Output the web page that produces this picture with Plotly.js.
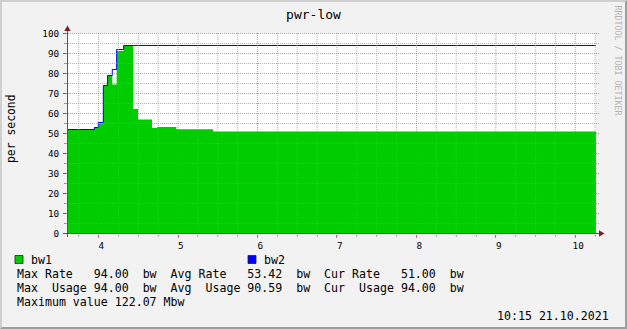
<!DOCTYPE html>
<html><head><meta charset="utf-8">
<script src="https://cdn.plot.ly/plotly-3.0.1.min.js"></script>
<style>
html,body{margin:0;padding:0;background:#f2f2f2;}
#wrap{position:relative;width:627px;height:329px;overflow:hidden;}
#chart{width:627px;height:329px;}
#frame{position:absolute;left:0;top:0;width:627px;height:329px;box-sizing:border-box;border-top:2px solid #cfcfcf;border-left:2px solid #cfcfcf;border-right:2px solid #9e9e9e;border-bottom:2px solid #9e9e9e;pointer-events:none;}
</style></head><body>
<div id="wrap"><div id="chart"></div><div id="frame"></div></div>
<script>
// ---- data (step start times; last entry is the end of the last step) ----
const stepTimes = [3.602, 3.946, 3.996, 4.059, 4.113, 4.172, 4.227, 4.315, 4.437, 4.496, 4.672, 4.735, 4.978, 5.440, 10.26];
const bw1 = [52, 53, 55, 74, 79, 74.5, 91.3, 94, 62.3, 57, 52.8, 53.3, 52.1, 51, 51];
const bw2 = [52, 53, 55.5, 74, 79, 82, 92, 94, 94, 94, 94, 94, 94, 94, 94];
const xTickVals = [4, 5, 6, 7, 8, 9, 10];
const xTickText = ['4', '5', '6', '7', '8', '9', '10'];
const yTickVals = [0, 10, 20, 30, 40, 50, 60, 70, 80, 90, 100];
const seriesNames = ['bw1', 'bw2'];
const bw1Stats = [94.00, 53.42, 51.00];   // max, avg, cur  (Rate)
const bw2Stats = [94.00, 90.59, 94.00];   // max, avg, cur  (Usage)
const maxValueText = 'Maximum value 122.07 Mbw';
const dateText = '10:15 21.10.2021';

// ---- layout helpers ----
const W = 627, H = 329, L = 67, R = 596, T = 33, B = 234;
const px = v => (v - L) / (R - L);
const py = v => (B - v) / (B - T);
const MONO = 'DejaVu Sans Mono, monospace';
const GRID = 'rgba(143,143,143,0.7)';
const MGRID = 'rgba(222,79,79,0.68)';
const nb = s => s.replace(/ /g, '\u00a0');
const f2 = v => v.toFixed(2);

const traces = [
  {x: stepTimes, y: bw1, type: 'scatter', mode: 'lines', name: seriesNames[0],
   line: {shape: 'hv', width: 0, color: '#00cc00'}, fill: 'tozeroy', fillcolor: '#00cc00', hoverinfo: 'skip'},
  {x: stepTimes, y: bw2, type: 'scatter', mode: 'lines', name: seriesNames[1],
   line: {shape: 'hv', width: 1, color: '#0000ff'}, hoverinfo: 'skip'}
];

const shapes = [];
// grid above traces (rrdtool style)
for (let i = 1; i <= 20; i++) {
  const v = i * 5;
  shapes.push({type: 'line', xref: 'paper', yref: 'y', x0: px(64), x1: px(599), y0: v, y1: v,
    line: {color: v % 10 === 0 ? MGRID : GRID, width: 1, dash: '1px,1px'}, layer: 'above'});
}
for (let k = 15; k <= 41; k++) {
  const v = k * 0.25;
  if (v <= 3.602 || v >= 10.26) continue;
  const major = Math.abs(v - Math.round(v)) < 1e-9;
  shapes.push({type: 'line', xref: 'x', yref: 'paper', x0: v, x1: v, y0: py(236), y1: py(33),
    line: {color: major ? MGRID : GRID, width: 1, dash: '1px,1px'}, layer: 'above'});
}
// axes
shapes.push({type: 'line', xref: 'paper', yref: 'paper', x0: px(67.5), x1: px(67.5), y0: py(237), y1: py(30),
  line: {color: '#555', width: 1}, layer: 'above'});
shapes.push({type: 'line', xref: 'paper', yref: 'paper', x0: px(63.5), x1: px(600), y0: py(233.5), y1: py(233.5),
  line: {color: '#555', width: 1}, layer: 'above'});
// arrows
const pathOf = pts => 'M ' + pts.map(p => px(p[0]) + ' ' + py(p[1])).join(' L ') + ' Z';
shapes.push({type: 'path', xref: 'paper', yref: 'paper', path: pathOf([[67.5, 25.5], [64.3, 31], [70.7, 31]]),
  fillcolor: '#801f1f', line: {width: 0}, layer: 'above'});
shapes.push({type: 'path', xref: 'paper', yref: 'paper', path: pathOf([[604.5, 233.5], [599, 230.3], [599, 236.7]]),
  fillcolor: '#801f1f', line: {width: 0}, layer: 'above'});
// legend swatches
shapes.push({type: 'rect', xref: 'paper', yref: 'paper', x0: px(15), x1: px(23), y0: py(263.5), y1: py(255.5),
  fillcolor: '#00cc00', line: {color: '#222', width: 0.8}});
shapes.push({type: 'rect', xref: 'paper', yref: 'paper', x0: px(248), x1: px(256), y0: py(263.5), y1: py(255.5),
  fillcolor: '#0000ff', line: {color: '#222', width: 0.8}});

const line1 = 'Max Rate   ' + f2(bw1Stats[0]) + '  bw  Avg Rate   ' + f2(bw1Stats[1]) + '  bw  Cur Rate   ' + f2(bw1Stats[2]) + '  bw';
const line2 = 'Max  Usage ' + f2(bw2Stats[0]) + '  bw  Avg  Usage ' + f2(bw2Stats[1]) + '  bw  Cur  Usage ' + f2(bw2Stats[2]) + '  bw';
const txt = (t, x, y, extra) => Object.assign({text: nb(t), xref: 'paper', yref: 'paper', x: px(x), y: py(y),
  xanchor: 'left', yanchor: 'middle', showarrow: false, borderpad: 0,
  font: {family: MONO, size: 11.6, color: '#000'}}, extra || {});

const annotations = [
  txt(seriesNames[0], 30, 259.5),
  txt(seriesNames[1], 263, 259.5),
  txt(line1, 16, 273.5),
  txt(line2, 16, 287.5),
  txt(maxValueText, 16, 301.5),
  txt(dateText, 610, 315.5, {xanchor: 'right'}),
  txt('per second', 11, 129, {xanchor: 'center', textangle: -90, font: {family: MONO, size: 11.4, color: '#000'}}),
  txt('RRDTOOL / TOBI OETIKER', 617.5, 60, {xanchor: 'center', textangle: 90, font: {family: MONO, size: 8.3, color: '#b4b4b4'}})
];

const layout = {
  width: W, height: H,
  margin: {l: L, r: W - R, t: T, b: H - B, pad: 0},
  paper_bgcolor: '#f2f2f2', plot_bgcolor: '#ffffff',
  showlegend: false,
  title: {text: 'pwr-low', font: {family: MONO, size: 13, color: '#000'},
    xref: 'container', x: 0.5, xanchor: 'center', yref: 'container', y: 1 - 14.5 / H, yanchor: 'middle'},
  xaxis: {range: [3.602, 10.26], tickmode: 'array', tickvals: xTickVals,
    ticktext: xTickText.map(t => '\u00a0' + t),
    showgrid: false, zeroline: false, showline: false,
    ticks: 'outside', ticklen: 3, tickcolor: 'rgba(200,60,60,0.7)',
    tickfont: {family: MONO, size: 9.3, color: '#000'},
    minor: {tickmode: 'linear', tick0: 0, dtick: 0.25, ticks: 'outside', ticklen: 2, tickcolor: '#bbb', showgrid: false}},
  yaxis: {range: [-0.25, 100.25], tickmode: 'array', tickvals: yTickVals,
    showgrid: false, zeroline: false, showline: false,
    ticks: 'outside', ticklen: 3, tickcolor: '#555', ticklabelstandoff: 2,
    tickfont: {family: MONO, size: 9.3, color: '#000'},
    minor: {tickmode: 'linear', tick0: 0, dtick: 5, ticks: 'outside', ticklen: 2, tickcolor: '#999', showgrid: false}},
  shapes: shapes,
  annotations: annotations
};

Plotly.newPlot('chart', traces, layout, {displayModeBar: false, staticPlot: true});
</script>
</body></html>
